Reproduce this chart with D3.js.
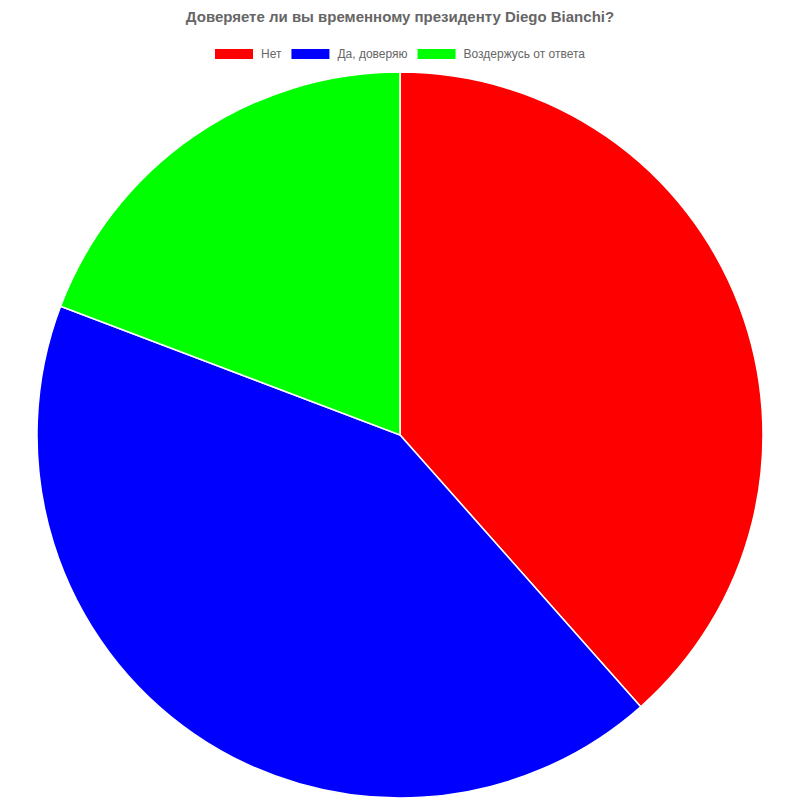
<!DOCTYPE html>
<html>
<head>
<meta charset="utf-8">
<script src="https://cdn.jsdelivr.net/npm/d3@7"></script>
<style>
  body { margin: 0; background: #fff; }
  text { font-family: "Liberation Sans", Arial, sans-serif; }
</style>
</head>
<body>
<div id="chart"></div>
<script>
// Data
var labels = ["Нет", "Да, доверяю", "Воздержусь от ответа"];
var values = [10, 11, 5];
var colors = ["#ff0000", "#0000ff", "#00ff00"];
var titleText = "Доверяете ли вы временному президенту Diego Bianchi?";

var width = 800, height = 800;
var cx = 400, cy = 435, radius = 363;

var svg = d3.select("#chart").append("svg")
    .attr("width", width)
    .attr("height", height);

// Title
svg.append("text")
   .attr("x", width / 2)
   .attr("y", 22)
   .attr("text-anchor", "middle")
   .style("font-size", "15px")
   .style("font-weight", "bold")
   .style("fill", "#666")
   .text(titleText);

// Legend
var legend = svg.append("g");
var xPos = 0;
var items = [];
labels.forEach(function(label, i)
{
    var g = legend.append("g");
    g.append("rect")
     .attr("width", 38)
     .attr("height", 10)
     .attr("fill", colors[i]);
    var t = g.append("text")
     .attr("x", 46)
     .attr("y", 9)
     .style("font-size", "12px")
     .style("fill", "#666")
     .text(label);
    var w = 46 + t.node().getComputedTextLength();
    items.push({ g: g, x: xPos });
    xPos += w + 10;
});
var totalW = xPos - 10;
var startX = (width - totalW) / 2;
items.forEach(function(item)
{
    item.g.attr("transform", "translate(" + (startX + item.x) + ",49)");
});

// Pie
var pie = d3.pie().sort(null).value(function(d) { return d; });
var arc = d3.arc().innerRadius(0).outerRadius(radius);

svg.append("g")
   .attr("transform", "translate(" + cx + "," + cy + ")")
   .selectAll("path")
   .data(pie(values))
   .enter()
   .append("path")
   .attr("d", arc)
   .attr("fill", function(d, i) { return colors[i]; })
   .attr("stroke", "#fff")
   .attr("stroke-width", 1.5);
</script>
</body>
</html>
